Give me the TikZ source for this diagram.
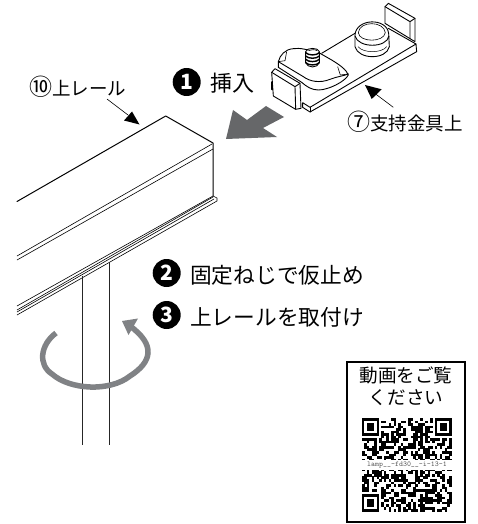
\documentclass[tikz,border=0pt]{standalone}
\usepackage{fontspec}
\setmainfont{Noto Sans CJK JP}
\definecolor{bigarrow}{HTML}{666769}
\definecolor{turncol}{HTML}{808285}
\newcommand{\circnum}[1]{{\fontsize{23}{19}\selectfont #1}}
\tikzset{
 ln/.style={line width=0.9pt,line join=round,line cap=round,black},
 thin ln/.style={line width=0.6pt,line join=round,black},
 lbl/.style={inner sep=0pt,font=\fontsize{18.5}{19}\selectfont,anchor=center},
 txt/.style={inner sep=0pt,font=\fontsize{21.7}{21.7}\selectfont,anchor=west},
 num/.style={circle,fill=black,text=white,minimum size=28pt,inner sep=0pt,font=\fontsize{21}{21}\selectfont\bfseries},
}
\begin{document}
\begin{tikzpicture}[x=1pt,y=-1pt]
\useasboundingbox (0,0) rectangle (478,524);
\fill[white] (0,0) rectangle (478,524);
% rail
\coordinate (ra) at (17,201.5);
\coordinate (rb) at (165.7,116);
\coordinate (rc) at (213,143);
\draw[ln,line width=1pt] (ra)--(rb)--(rc)--(213,196);
\draw[thin ln] (212,144)--(17,256);
\draw[thin ln] (213,149)--(17,260);
\draw[thin ln] (213,196)--(17,306);
\draw[thin ln] (213,196)--(217,198)--(217,201)--(17,315);
\draw[thin ln] (214,199)--(17,312);
\draw[thin ln] (213,197)--(17,310);
% posts
\coordinate (p1a) at (82.5,276);\coordinate (p1b) at (82.5,445);
\coordinate (p2a) at (109,262);\coordinate (p2b) at (109,445);
\draw[line width=1pt,black!85] (p1a)--(p1b) (p2a)--(p2b);
% rotation arrow
\draw[turncol,line width=5.5pt] (56,333) .. controls (40,345) and (38,365) .. (52,374) .. controls (70,390) and (110,392) .. (130,376) .. controls (152,362) and (156,345) .. (130,326);
\fill[turncol] (122,321) -- (138,318.5) -- (128.5,335) -- cycle;
% big arrow
\fill[bigarrow] (226,139)--(233,110)--(247,120)--(266,106)--(284,117)--(263,128)--(277,137)--cycle;
% bracket: plate, tab, cylinder
\begin{scope}[shift={(230,0)},x=0.3333pt,y=-0.3333pt]
\draw[ln] (275,160)--(375,100) (475,85)--(558,132);
\draw[ln] (218,308)--(240,322)--(558,132)--(560,155)--(240,336)--(218,322)--cycle;
\draw[ln] (240,322)--(240,336);
% tab
\filldraw[ln,fill=white] (465,20)--(475,10)--(555,55)--(555,125)--(465,70)--cycle;
\draw[ln] (465,20)--(540,65)--(555,55) (540,65)--(540,115);
% cylinder
\filldraw[ln,fill=white] (375,105)--(375,140) .. controls (385,180) and (470,180) .. (478,140)--(476,100)
  .. controls (470,52) and (378,55) .. (375,105)--cycle;
\draw[ln] (375,108) .. controls (385,145) and (470,145) .. (477,108);
\draw[thin ln] (385,98) .. controls (388,62) and (462,62) .. (466,98) .. controls (462,128) and (388,128) .. (385,98)--cycle;
\draw[line width=0.5pt] (384,140) .. controls (400,160) and (455,160) .. (470,140);
\end{scope}
% bracket: nut plate, screw, block
\begin{scope}[shift={(265,40)},x=0.3333pt,y=-0.3333pt]
\filldraw[ln,fill=white] (40,65) .. controls (45,45) and (60,28) .. (85,26) .. controls (105,23) and (125,28) .. (165,40)
  -- (200,60) .. controls (225,75) and (245,90) .. (250,105) .. controls (240,125) and (190,150) .. (160,150)
  .. controls (140,150) and (125,140) .. (110,127) -- (40,82) -- cycle;
\draw[ln] (40,65) -- (115,110) .. controls (135,125) and (165,130) .. (195,118) .. controls (215,110) and (235,108) .. (250,102);
\draw[thin ln] (65,35)--(60,62)--(40,65);
\draw[thin ln] (218,80)--(226,105)--(250,102);
% screw
\filldraw[ln,fill=white] (122,35) .. controls (125,22) and (160,22) .. (163,35)--(163,68) .. controls (158,85) and (127,85) .. (122,68)--cycle;
\foreach \y in {38,48,58,68}{\draw[line width=1.4pt] (122,\y) .. controls (130,\y+9) and (155,\y+9) .. (163,\y);}
\draw[thin ln] (130,32) .. controls (138,28) and (150,28) .. (156,32);
% block
\filldraw[ln,fill=white] (20,97)--(30,86)--(105,130)--(108,205)--(92,208)--(25,168)--cycle;
\draw[ln] (20,97)--(90,140)--(105,130) (90,140)--(92,207);
\draw[ln,line width=1.8pt] (20,126)--(20,148);
\end{scope}
% small arrow
\coordinate (a7s) at (393.3,107.3);\coordinate (a7t) at (365,85);
\draw[thin ln] (a7s)--(373,92);
\fill (a7t)--(381.7,89.3)--(371.7,99)--cycle;
\node[lbl] (l7) at (405,122) {\circnum{⑦}支持金具上};
\node[lbl] (l10) at (77.5,87) {\circnum{⑩}上レール};
\coordinate (a10s) at (107,99);
\coordinate (a10t) at (139.5,124.5);
\draw[thin ln] (a10s)--(128,115);
\fill (a10t)--(132,111.5)--(124,120.5)--cycle;
% numbers and text
\node[num] (n1) at (186.7,82) {1};
\node[txt] (t1) at (210,83) {\fontsize{22}{22}\selectfont 挿入};
\node[num] (n2) at (166.7,273) {2};
\node[txt] (t2) at (190,275) {固定ねじで仮止め};
\node[num] (n3) at (166.7,315) {3};
\node[txt] (t3) at (190,317) {上レールを取付け};
% QR box
\draw[line width=1.6pt] (347,362) rectangle (465,522);
\node[inner sep=0pt,align=center,font=\fontsize{18.6}{22}\selectfont] (qt) at (406,386) {動画をご覧\\ください};
\begin{scope}[shift={(362,418)},x=2.43pt,y=-2.54pt]
\pgfmathsetseed{4711}
\foreach \i in {0,...,36}{\foreach \j in {0,...,36}{
  \pgfmathparse{rnd<0.52 ? 1 : 0}\let\on\pgfmathresult
  \pgfmathparse{((\i<8 && \j<8)||(\i>28 && \j<8)||(\i<8 && \j>28)) ? 0 : 1}\let\free\pgfmathresult
  \pgfmathparse{(\on>0.5 && \free>0.5) ? 1 : 0}
  \ifdim\pgfmathresult pt>0.5pt \fill (\i,\j) rectangle ++(1.03,1.03);\fi
}}
\foreach \a/\b in {0/0,30/0,0/30}{
  \fill (\a,\b) rectangle ++(7,7);
  \fill[white] (\a+1,\b+1) rectangle ++(5,5);
  \fill (\a+2,\b+2) rectangle ++(3,3);}
\end{scope}
\fill[white] (362,460) rectangle (452,470);
\node[inner sep=0pt,text=black!65,font=\fontsize{7.5}{8}\selectfont\ttfamily] (qc) at (407,465) {lamp\_\_-fd30\_\_-i-13-1};
\end{tikzpicture}
\end{document}
